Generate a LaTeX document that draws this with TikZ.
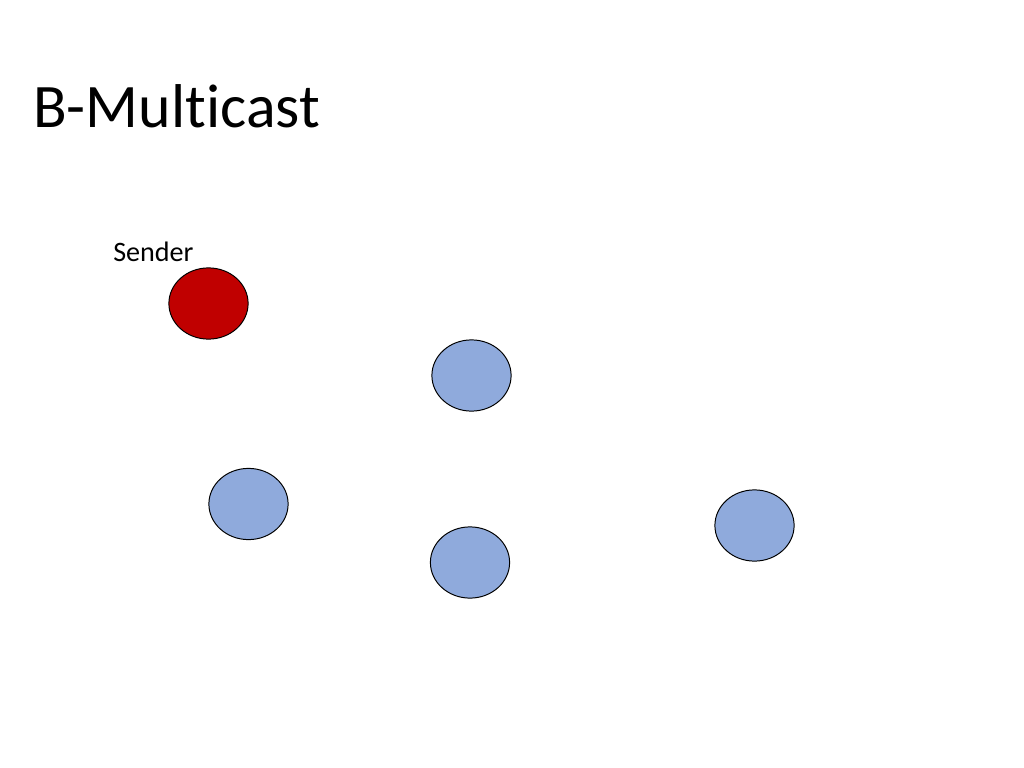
\documentclass[tikz,border=0pt]{standalone}
\usepackage{fontspec}
\setmainfont[Ligatures={NoCommon}]{Carlito}
\usetikzlibrary{shapes.geometric}
\definecolor{color_send}{RGB}{192,0,0}
\definecolor{color_proc}{RGB}{143,170,220}

\begin{document}
\begin{tikzpicture}[x=0.025cm,y=-0.025cm,
process/.style={ellipse,draw=black,line width=0.7pt,fill=color_proc,
  minimum width=1.98cm,minimum height=1.78cm,inner sep=0pt},
sender/.style={process,fill=color_send}]
\useasboundingbox (0,0) rectangle (1024,768);
% TITULO
\node[anchor=base west,inner sep=0pt,font=\fontsize{44}{48}\selectfont] (title) at (33,128) {B-Multicast};
% EMISOR
\node[anchor=base west,inner sep=0pt,font=\fontsize{20}{24}\selectfont] (label) at (113,261) {Sender};
\node[sender] (send) at (208.5,303.5) {};
% PROCESOS
\node[process] (p1) at (471.5,375.5) {};
\node[process] (p2) at (248.5,504) {};
\node[process] (p3) at (470,562.5) {};
\node[process] (p4) at (754.5,525.5) {};
\end{tikzpicture}
\end{document}
